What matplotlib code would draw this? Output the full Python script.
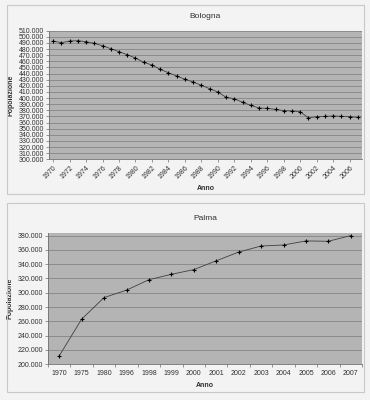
import numpy as np
import matplotlib.pyplot as plt
from matplotlib.patches import Rectangle
from matplotlib.ticker import FuncFormatter

plt.rcParams['font.family'] = ['Liberation Sans', 'DejaVu Sans']

# Bologna, 1970-2007
bologna_anni = list(range(1970, 2008))
bologna_pop = [493100, 490400, 493100, 493700, 492000, 489300, 485500, 480600,
               475700, 470800, 465400, 458300, 454000, 446900, 441400, 436000,
               430600, 426200, 420800, 415300, 409900, 401200, 399000, 393000,
               388100, 383800, 383200, 381600, 379400, 378900, 377800, 367500,
               369600, 370200, 370700, 370200, 369600, 368500]

# Palma
palma_anni = ['1970', '1975', '1980', '1996', '1998', '1999', '2000',
              '2001', '2002', '2003', '2004', '2005', '2006', '2007']
palma_pop = [211800, 263100, 293300, 303700, 318300, 325800, 332400,
             344700, 356900, 365400, 366800, 372500, 372000, 380000]

fondo = '#b4b4b4'
griglia = '#858585'
pagina = '#f3f3f3'

fmt = FuncFormatter(lambda v, p: f'{int(v):,}'.replace(',', '.'))

fig = plt.figure(figsize=(3.7, 4.0), dpi=100, facecolor=pagina)

# chart boxes
for y0, y1 in [(5, 194), (203, 392)]:
    fig.patches.append(Rectangle((7 / 370, 1 - y1 / 400), 357 / 370, (y1 - y0) / 400,
                                 transform=fig.transFigure, fill=False,
                                 edgecolor='#c8c8c8', lw=0.8))


def stile(ax):
    ax.set_facecolor(fondo)
    ax.yaxis.grid(True, color=griglia, lw=0.6)
    ax.set_axisbelow(True)
    for s in ['top', 'right']:
        ax.spines[s].set_visible(False)
    for s in ['left', 'bottom']:
        ax.spines[s].set_color('#707070')
        ax.spines[s].set_linewidth(0.6)
    ax.yaxis.set_major_formatter(fmt)
    ax.tick_params(labelsize=5, length=2, width=0.5, color='#707070', pad=1.5,
                   labelcolor='#303030')


# --- Bologna ---
ax1 = fig.add_axes([49 / 370, 1 - 159.3 / 400, 313 / 370, 128.6 / 400])
stile(ax1)
x1 = np.arange(len(bologna_anni))
ax1.plot(x1, bologna_pop, color='#404040', lw=0.6, marker='+', ms=2.5,
         mec='black', mew=0.8)
ax1.set_xlim(-0.5, len(bologna_anni) - 0.5)
ax1.set_ylim(300000, 510000)
ax1.set_yticks(np.arange(300000, 510001, 10000))
ax1.set_xticks(x1[::2])
ax1.set_xticklabels([str(a) for a in bologna_anni[::2]], rotation=45,
                    ha='right', rotation_mode='anchor')
ax1.set_title('Bologna', fontsize=6, pad=9, color='#303030')
ax1.set_xlabel('Anno', fontsize=5, fontweight='bold', labelpad=3, color='#303030')
ax1.set_ylabel('Popolazione', fontsize=5, fontweight='bold', labelpad=3,
               color='#303030')

# --- Palma ---
ax2 = fig.add_axes([48 / 370, 1 - 364.3 / 400, 314 / 370, 131.6 / 400])
stile(ax2)
x2 = np.arange(len(palma_anni))
ax2.plot(x2, palma_pop, color='#404040', lw=0.6, marker='+', ms=2.5,
         mec='black', mew=0.8)
ax2.set_xlim(-0.5, len(palma_anni) - 0.5)
ax2.set_ylim(200000, 384000)
ax2.set_yticks(np.arange(200000, 380001, 20000))
ax2.set_xticks(x2)
ax2.set_xticklabels(palma_anni)
ax2.tick_params(axis='x', length=0, pad=4)
ax2.set_xticks(np.arange(-0.5, len(palma_anni)), minor=True)
ax2.tick_params(axis='x', which='minor', length=2, width=0.5, color='#707070')
ax2.set_title('Palma', fontsize=6, pad=9, color='#303030')
ax2.set_xlabel('Anno', fontsize=5, fontweight='bold', labelpad=4, color='#303030')
ax2.set_ylabel('Popolazione', fontsize=5, fontweight='bold', labelpad=3,
               color='#303030')

fig.savefig('out.png', dpi=100, facecolor=pagina)
